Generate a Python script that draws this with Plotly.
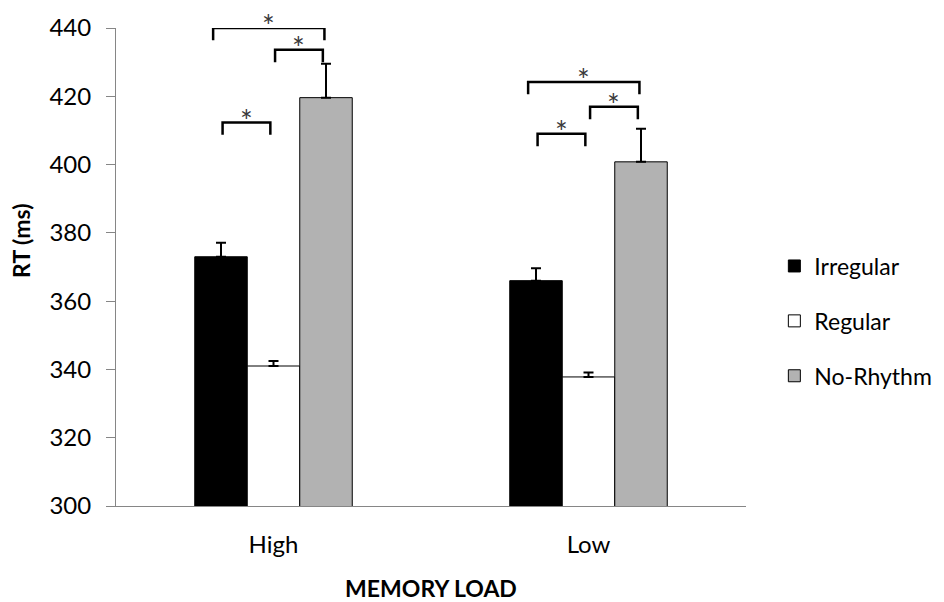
import plotly.graph_objects as go

# ---- data ----
categories = ["High", "Low"]
series_names = ["Irregular", "Regular", "No-Rhythm"]
irregular_rt = [373.0, 366.0]
regular_rt = [341.0, 337.8]
norhythm_rt = [419.6, 400.8]
irregular_se = [4.1, 3.6]
regular_se = [1.5, 1.3]
norhythm_se = [9.9, 9.7]
# significance brackets: (category index, left series, right series, bracket level in ms)
sig_pairs = [
    (0, 0, 1, 412.3),
    (0, 1, 2, 433.6),
    (0, 0, 2, 440.0),
    (1, 0, 1, 409.0),
    (1, 1, 2, 416.9),
    (1, 0, 2, 424.2),
]
y_ticks = [300, 320, 340, 360, 380, 400, 420, 440]

# ---- style ----
colors = ["#000000", "#ffffff", "#b2b2b2"]
FONT = "Lato"
BARGAP = 0.5
n_series = 3
bar_w = (1 - BARGAP) / n_series
LEG = 3.6

values = [irregular_rt, regular_rt, norhythm_rt]
errors = [irregular_se, regular_se, norhythm_se]
xpos = list(range(len(categories)))

fig = go.Figure()
for k in range(n_series):
    fig.add_trace(go.Bar(
        x=xpos, y=values[k], name=series_names[k],
        marker=dict(color=colors[k], line=dict(color="#000000", width=1)),
        error_y=dict(type="data", array=errors[k], arrayminus=[0] * len(categories),
                     symmetric=False, color="#000000", thickness=2, width=5),
        legendgroup=series_names[k],
    ))

def center(ci, si):
    return xpos[ci] + (si - (n_series - 1) / 2) * bar_w

for ci, a, b, lvl in sig_pairs:
    if b - a == 1:
        x0 = center(ci, a) + 0.005
        x1 = center(ci, b) - 0.01
    else:
        x0 = center(ci, a) - 0.025
        x1 = center(ci, b) - 0.005
    fig.add_trace(go.Scatter(
        x=[x0, x0, x1, x1], y=[lvl - LEG, lvl, lvl, lvl - LEG],
        mode="lines", line=dict(color="#000000", width=2.5),
        cliponaxis=False, showlegend=False, hoverinfo="skip",
    ))
    fig.add_annotation(x=(x0 + x1) / 2, y=lvl, text="*", showarrow=False,
                       yanchor="middle", yshift=3,
                       font=dict(family=FONT, size=30, color="#3a3a3a"))

fig.add_annotation(xref="paper", yref="paper", x=-0.152, y=0.555,
                   text="<b>RT (ms)</b>", textangle=-90, showarrow=False,
                   xanchor="center", yanchor="middle",
                   font=dict(family=FONT, size=23, color="#000000"))

fig.update_layout(
    width=944, height=602,
    margin=dict(l=116, r=198, t=28, b=96, autoexpand=False),
    paper_bgcolor="white", plot_bgcolor="white",
    barmode="group", bargap=BARGAP, bargroupgap=0,
    font=dict(family=FONT, size=24, color="#000000"),
    legend=dict(x=1.045, y=0.387, xanchor="left", yanchor="middle",
                traceorder="grouped", tracegroupgap=22,
                font=dict(family=FONT, size=23, color="#000000")),
    showlegend=True,
    xaxis=dict(range=[-0.5, 1.5], tickmode="array", tickvals=xpos, ticktext=categories,
               showline=True, linecolor="#868686", linewidth=1, showgrid=False,
               zeroline=False, ticks="", ticklabelstandoff=17, automargin=False,
               tickfont=dict(family=FONT, size=24),
               title=dict(text="<b>MEMORY LOAD</b>", standoff=24,
                          font=dict(family=FONT, size=23))),
    yaxis=dict(range=[300, 440], tickmode="array", tickvals=y_ticks,
               showline=True, linecolor="#868686", linewidth=1, showgrid=False,
               zeroline=False, ticks="outside", ticklen=9, tickcolor="#868686",
               tickfont=dict(family=FONT, size=24), automargin=False,
               ticklabelstandoff=10),
)

fig.write_html("out.html")
